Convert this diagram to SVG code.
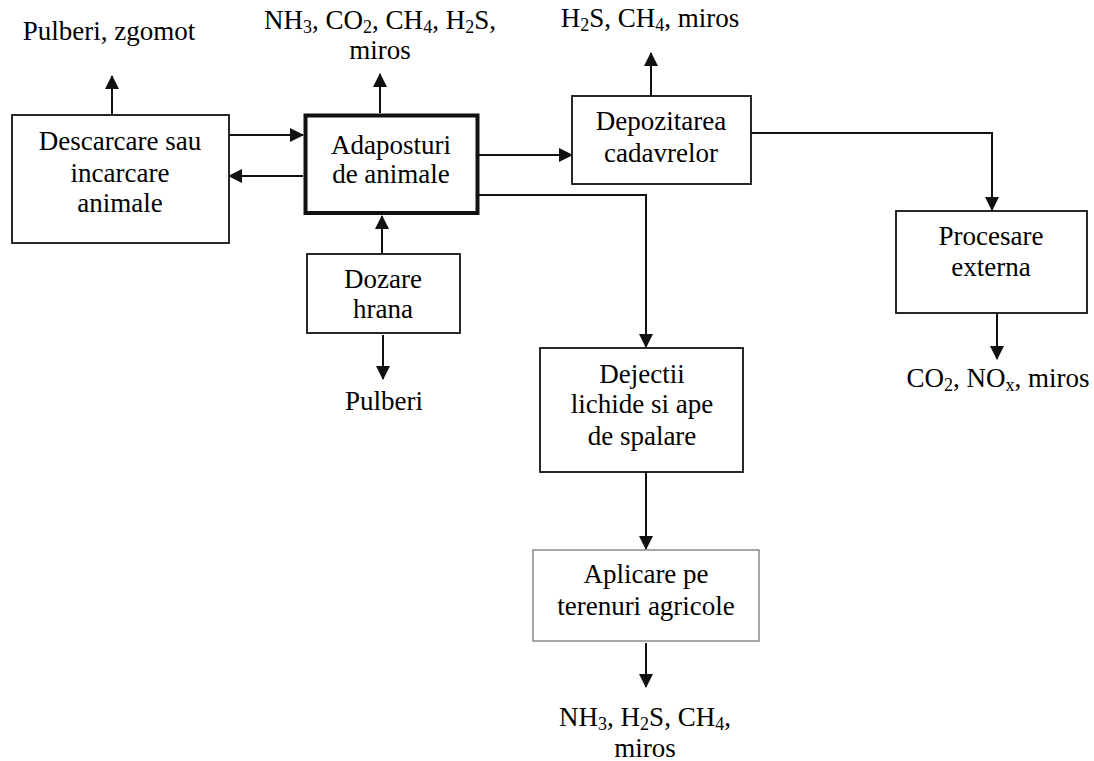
<svg xmlns="http://www.w3.org/2000/svg" width="1094" height="761" viewBox="0 0 1094 761" font-family="'Liberation Serif', 'Times New Roman', serif">
<style>
.t{font-family:'Liberation Serif','Times New Roman',serif;font-size:27px;fill:#000;text-anchor:middle}
.box{fill:#fff;stroke:#111;stroke-width:1.8}
.thick{fill:#fff;stroke:#111;stroke-width:4}
.light{fill:#fff;stroke:#777;stroke-width:1.3}
.con{fill:none;stroke:#111;stroke-width:2;marker-end:url(#ah)}
.s{font-size:18px}
</style>
<defs>
<marker id="ah" viewBox="0 0 14 14" refX="13" refY="7" markerWidth="14" markerHeight="14" markerUnits="userSpaceOnUse" orient="auto">
<path d="M0,0 L14,7 L0,14 z" fill="#111"/>
</marker>
</defs>
<rect width="1094" height="761" fill="#fff"/>
<g id="connectors">
<path class="con" d="M112,115 V76"/>
<path class="con" d="M380,113 V74"/>
<path class="con" d="M651,96 V53"/>
<path class="con" d="M229,135 H303"/>
<path class="con" d="M303,176 H229"/>
<path class="con" d="M479,155 H572"/>
<path class="con" d="M479,195 H646 V347"/>
<path class="con" d="M751,133 H992 V210"/>
<path class="con" d="M382,254 V216"/>
<path class="con" d="M383,335 V379"/>
<path class="con" d="M646,472 V549"/>
<path class="con" d="M646,643 V687"/>
<path class="con" d="M997,313 V359"/>
</g>
<g id="descarcare">
<rect class="box" x="12" y="115" width="217" height="128"/>
<text class="t" x="120" y="150">Descarcare sau</text>
<text class="t" x="120" y="181.7">incarcare</text>
<text class="t" x="120" y="211.7">animale</text>
</g>
<g id="adaposturi">
<rect class="thick" x="305.5" y="115.5" width="172" height="97.5"/>
<text class="t" x="391" y="154">Adaposturi</text>
<text class="t" x="391" y="183.3">de animale</text>
</g>
<g id="depozitarea">
<rect class="box" x="572" y="96" width="179" height="88"/>
<text class="t" x="661" y="130">Depozitarea</text>
<text class="t" x="661" y="161.7">cadavrelor</text>
</g>
<g id="procesare">
<rect class="box" x="896" y="211" width="191" height="102"/>
<text class="t" x="991" y="245">Procesare</text>
<text class="t" x="991" y="276">externa</text>
</g>
<g id="dozare">
<rect class="box" x="307" y="254" width="153" height="79"/>
<text class="t" x="383" y="288">Dozare</text>
<text class="t" x="383" y="318">hrana</text>
</g>
<g id="dejectii">
<rect class="box" x="540" y="348" width="203" height="124"/>
<text class="t" x="642" y="382.7">Dejectii</text>
<text class="t" x="642" y="413.3">lichide si ape</text>
<text class="t" x="642" y="445">de spalare</text>
</g>
<g id="aplicare">
<rect class="light" x="533" y="550" width="226" height="91"/>
<text class="t" x="646" y="583">Aplicare pe</text>
<text class="t" x="646" y="615">terenuri agricole</text>
</g>
<g id="labels">
<text class="t" x="109" y="40">Pulberi, zgomot</text>
<text class="t" x="380" y="29">NH<tspan class="s" dy="4">3</tspan><tspan dy="-4">, CO</tspan><tspan class="s" dy="4">2</tspan><tspan dy="-4">, CH</tspan><tspan class="s" dy="4">4</tspan><tspan dy="-4">, H</tspan><tspan class="s" dy="4">2</tspan><tspan dy="-4">S,</tspan></text>
<text class="t" x="380" y="59">miros</text>
<text class="t" x="650" y="27">H<tspan class="s" dy="4">2</tspan><tspan dy="-4">S, CH</tspan><tspan class="s" dy="4">4</tspan><tspan dy="-4">, miros</tspan></text>
<text class="t" x="384" y="410">Pulberi</text>
<text class="t" x="998" y="387">CO<tspan class="s" dy="4">2</tspan><tspan dy="-4">, NO</tspan><tspan class="s" dy="4">x</tspan><tspan dy="-4">, miros</tspan></text>
<text class="t" x="645" y="726">NH<tspan class="s" dy="4">3</tspan><tspan dy="-4">, H</tspan><tspan class="s" dy="4">2</tspan><tspan dy="-4">S, CH</tspan><tspan class="s" dy="4">4</tspan><tspan dy="-4">,</tspan></text>
<text class="t" x="645" y="757">miros</text>
</g>
</svg>
